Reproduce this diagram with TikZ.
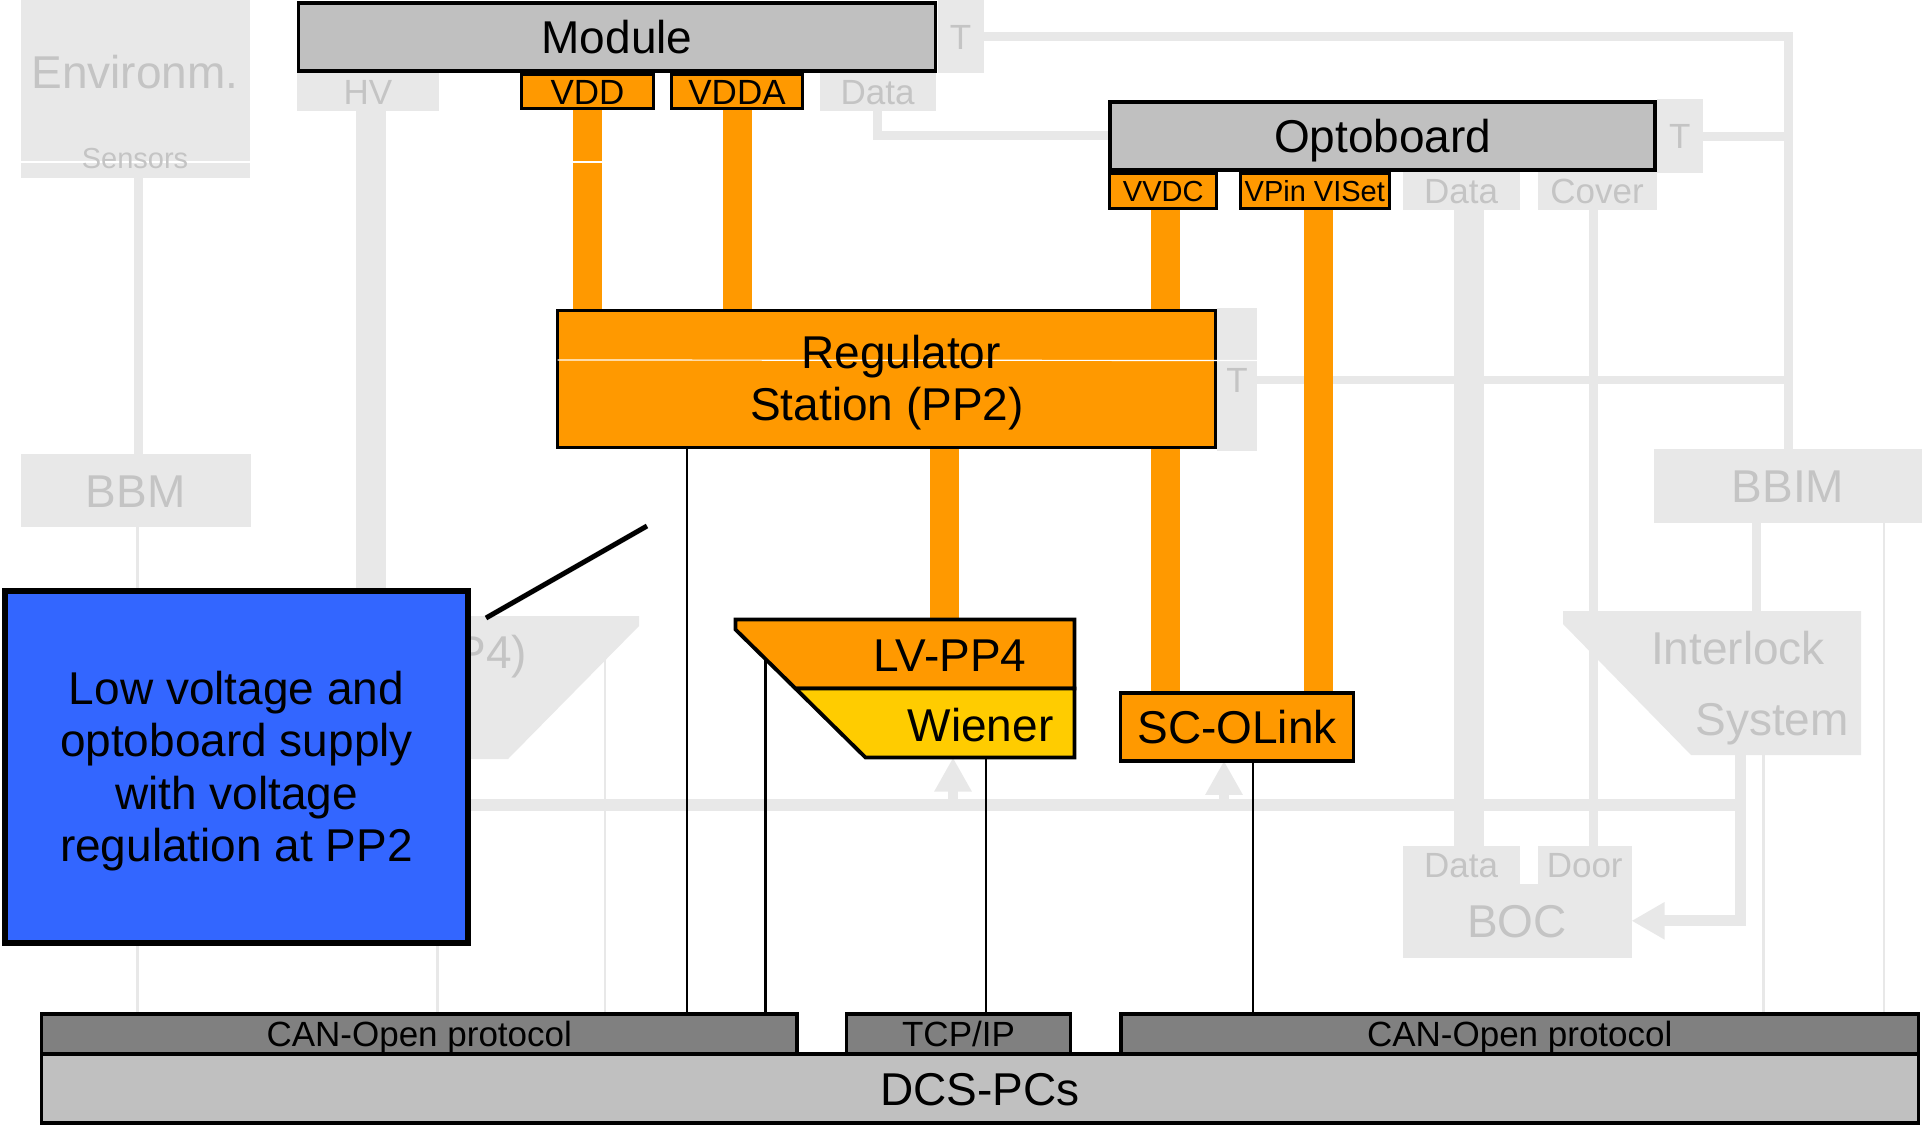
\documentclass[tikz,border=0pt]{standalone}
\usepackage{fontspec}
\setmainfont{Liberation Sans}
\usetikzlibrary{arrows.meta,backgrounds}
\definecolor{ghostfill}{HTML}{E8E8E8}
\definecolor{ghosttext}{HTML}{C4C4C4}
\definecolor{unitgray}{HTML}{C0C0C0}
\definecolor{busgray}{HTML}{808080}
\definecolor{pp2orange}{HTML}{FF9900}
\definecolor{wienergold}{HTML}{FFCC00}
\definecolor{noteblue}{HTML}{3366FF}

\begin{document}
\begin{tikzpicture}[
  x=1pt, y=-1pt,
  every node/.style={inner sep=0pt, outer sep=0pt},
  lblbig/.style={font=\fontsize{46}{52}\selectfont, text height=33pt, text depth=0pt},
  lblmed/.style={font=\fontsize{35}{40}\selectfont, text height=25pt, text depth=0pt},
  lblsmall/.style={font=\fontsize{29}{34}\selectfont, text height=21pt, text depth=0pt},
  ghost/.style={fill=ghostfill, text=ghosttext},
  ghostlbl/.style={text=ghosttext},
  ghostwire/.style={draw=ghostfill, line width=9pt},
  ghostbar/.style={draw=ghostfill, line width=30pt},
  ghosthair/.style={draw=ghostfill, line width=2.5pt},
  ghostarrow/.style={draw=ghostfill, line width=10pt, -{Triangle[length=34pt,width=35pt]}},
  unitbox/.style={draw=black, line width=3.8pt, fill=unitgray},
  supply/.style={draw=black, line width=3.8pt, fill=pp2orange},
  pinbox/.style={draw=black, line width=3pt, fill=pp2orange},
  busbox/.style={draw=black, line width=3.8pt, fill=busgray},
  feed/.style={draw=pp2orange, line width=29pt},
  wire/.style={draw=black, line width=2.5pt},
  sepline/.style={draw=white, line width=1.2pt},
  notebox/.style={draw=black, line width=6pt, fill=noteblue},
  notetext/.style={align=center, font=\fontsize{46}{52.5}\selectfont},
  pointer/.style={draw=black, line width=5pt},
]
% ---- ghosted context (not part of the LV chain) ----
\node[ghost, minimum width=229, minimum height=178] (env) at (135.25,89) {};
\coordinate (sensy) at (0,162);
\draw[sepline] (env.west |- sensy) -- (env.east |- sensy);
\node[ghostlbl, lblbig, anchor=base] (envlbl) at (135,88) {Environm.};
\node[ghostlbl, lblsmall, anchor=base] (senslbl) at (135,168) {Sensors};
\node[ghost, lblbig, minimum width=230, minimum height=73] (bbm) at (135.7,490.5) {BBM};
\node[ghost, lblmed, minimum width=142, minimum height=38] (hv) at (368,92) {HV};
\node[ghost, lblmed, minimum width=116, minimum height=38] (mdata) at (877.6,92) {Data};
\node[ghost, lblmed, minimum width=46, minimum height=73] (mT) at (960.5,36.5) {T};
\node[ghost, lblmed, minimum width=45.5, minimum height=74] (oT) at (1679.75,136) {T};
\node[ghost, lblmed, minimum width=117, minimum height=38] (odata) at (1461,191) {Data};
\node[ghost, lblmed, minimum width=119, minimum height=38] (cover) at (1597,191) {Cover};
\node[ghost, lblmed, minimum width=40, minimum height=143] (rT) at (1237,379.5) {T};
\node[ghost, lblbig, minimum width=268, minimum height=73.5] (bbim) at (1788,485.75) {BBIM};
\node[ghost, lblmed, minimum width=117, minimum height=38] (bocdata) at (1461,865) {Data};
\node[ghost, lblmed, minimum width=94, minimum height=38] (bocdoor) at (1584.7,865) {Door};
\node[ghost, lblbig, minimum width=229, minimum height=74] (boc) at (1517,920.8) {BOC};

% HV-PP4 (mostly behind the note)
\node[minimum width=339, minimum height=143] (hvpp4) at (469.5,687.5) {};
\fill[ghostfill] (hvpp4.north west) -- (hvpp4.north east) -- ([yshift=-10]hvpp4.north east)
  -- ([xshift=208]hvpp4.south west) -- (hvpp4.south west) -- cycle;
\node[ghostlbl, lblbig, anchor=base east] (hvpp4lbl) at (527,668) {P4)};

% interlock
\node[minimum width=298, minimum height=144] (intl) at (1712,683) {};
\fill[ghostfill] (intl.north west) -- (intl.north east) -- (intl.south east)
  -- ([xshift=128]intl.south west) -- ([yshift=-13]intl.north west) -- cycle;
\node[ghostlbl, lblbig, anchor=base] (intllblA) at (1738,664) {Interlock};
\node[ghostlbl, lblbig, anchor=base] (intllblB) at (1772,735) {System};

% ---- module and optoboard ----
\node[unitbox, lblbig, minimum width=637, minimum height=68] (module) at (617,37) {Module};
\node[pinbox, lblmed, minimum width=132, minimum height=34.5] (vdd) at (587.5,91.5) {VDD};
\node[pinbox, lblmed, minimum width=131, minimum height=34.5] (vdda) at (737,91.5) {VDDA};
\node[unitbox, lblbig, minimum width=545, minimum height=68] (opto) at (1382.75,135.75) {Optoboard};
\node[pinbox, lblsmall, minimum width=107, minimum height=35.5] (vvdc) at (1163.25,191) {VVDC};
\node[pinbox, lblsmall, minimum width=149, minimum height=35.5] (vpin) at (1314.8,191) {VPin VISet};

% ---- regulator station ----
\node[supply, minimum width=658, minimum height=137] (reg) at (886.5,379) {};
\draw[sepline] ([yshift=19]reg.west) -- ([yshift=19]rT.east);
\node[lblbig, anchor=base] (reglblA) at (901,368) {Regulator};
\node[lblbig, anchor=base] (reglblB) at (887,420) {Station (PP2)};

% ---- LV-PP4 / Wiener ----
\node[minimum width=339, minimum height=138] (lv) at (905,688.5) {};
\filldraw[supply] (lv.north west) -- (lv.north east) -- (lv.east) -- ([xshift=60]lv.west)
  -- ([yshift=-10]lv.north west) -- cycle;
\filldraw[supply, fill=wienergold] ([xshift=60]lv.west) -- (lv.east) -- (lv.south east)
  -- ([xshift=130]lv.south west) -- cycle;
\node[lblbig, anchor=base] (lvlbl) at (950,671) {LV-PP4};
\node[lblbig, anchor=base] (wienerlbl) at (980.5,741) {Wiener};

\node[supply, lblbig, minimum width=233, minimum height=67.5] (scolink) at (1237,727) {SC-OLink};

% ---- DCS PCs and field buses ----
\node[busbox, lblmed, minimum width=755.5, minimum height=40] (canL) at (419.25,1034) {CAN-Open protocol};
\node[busbox, lblmed, minimum width=224, minimum height=40] (tcp) at (958.5,1034) {TCP/IP};
\node[busbox, lblmed, minimum width=797.5, minimum height=40] (canR) at (1519.75,1034) {CAN-Open protocol};
\node[unitbox, lblbig, minimum width=1877, minimum height=69] (dcs) at (980,1088.75) {DCS-PCs};

% ---- connections (behind the boxes) ----
\begin{scope}[on background layer]
  \path[use as bounding box, fill=white] (0,0) rectangle (1923,1127);
  % ghosted wiring
  \draw[ghostwire] ([xshift=3]env.south) -- ([xshift=3]env.south |- bbm.north);
  \draw[ghosthair] ([xshift=2]bbm.south) -- ([xshift=2]bbm.south |- canL.north);
  \draw[ghostbar] ([xshift=3]hv.south) -- ([xshift=3]hv.south |- hvpp4.north);
  \draw[ghosthair] ([xshift=-32]hvpp4.south) -- ([xshift=-32]hvpp4.south |- canL.north);
  \draw[ghosthair] ([xshift=305,yshift=-44]hvpp4.north west) -- ([xshift=305]hvpp4.north west |- canL.north);
  \draw[ghostwire] (mdata.south) -- (mdata.south |- opto.west) -- (opto.west);
  \draw[ghostwire] (mT.east) -- (mT.east -| bbim.north) -- (bbim.north);
  \draw[ghostwire] (oT.east) -- (oT.east -| bbim.north);
  \draw[ghostwire, line width=8pt] (rT.east) -- (rT.east -| bbim.north);
  \draw[ghostbar] ([xshift=8]odata.south) -- ([xshift=8]bocdata.north);
  \draw[ghostwire] ([xshift=-3.5]cover.south) -- ([xshift=-3.5]cover.south |- bocdoor.north);
  \draw[ghostwire] ([xshift=-31.5]bbim.south) -- ([xshift=-31.5]bbim.south |- intl.north);
  \draw[ghosthair] ([xshift=96]bbim.south) -- ([xshift=96]bbim.south |- canR.north);
  \draw[ghosthair] ([xshift=51.6]intl.south) -- ([xshift=51.6]intl.south |- canR.north);
  \coordinate (intlout) at ([xshift=28.5]intl.south);
  \draw[ghostwire, line width=11pt, -{Triangle[length=33pt,width=35pt]}]
    (intlout) -- (intlout |- boc.east) -- (boc.east);
  \coordinate (busW) at (380,805);
  \draw[ghostwire, line width=12pt] (busW) -- (busW -| intlout);
  \draw[ghostarrow] ([xshift=48]lv.south |- busW) -- ([xshift=48]lv.south);
  \draw[ghostarrow] ([xshift=-13]scolink.south |- busW) -- ([xshift=-13]scolink.south);

  % supply lines
  \draw[feed] (vdd.south) -- (vdd.south |- reg.north);
  \draw[feed] (vdda.south) -- (vdda.south |- reg.north);
  \draw[feed] ([xshift=2]vvdc.south) -- ([xshift=2]vvdc.south |- reg.north);
  \draw[feed] ([xshift=2]vvdc.south |- reg.south) -- ([xshift=2]vvdc.south |- scolink.north);
  \draw[feed] ([xshift=4]vpin.south) -- ([xshift=4]vpin.south |- scolink.north);
  \draw[feed] ([xshift=39.5]lv.north |- reg.south) -- ([xshift=39.5]lv.north);

  % control lines to the PCs
  \draw[wire] ([xshift=-199.5]reg.south) -- ([xshift=-199.5]reg.south |- canL.north);
  \draw[wire] ([xshift=30,yshift=-40]lv.north west) -- ([xshift=30]lv.north west |- canL.north);
  \draw[wire] ([xshift=81]lv.south) -- ([xshift=81]lv.south |- tcp.north);
  \draw[wire] ([xshift=16]scolink.south) -- ([xshift=16]scolink.south |- canR.north);
\end{scope}
\draw[sepline] ([xshift=-15]vdd.south |- sensy) -- ([xshift=15]vdd.south |- sensy);

% ---- highlight note ----
\node[notebox, minimum width=463, minimum height=352] (pp2note) at (236.5,767) {};
\node[notetext] (pp2text) at (236.5,771)
  {Low voltage and\\optoboard supply\\with voltage\\regulation at PP2};
\coordinate (ptrtip) at (647,526);
\draw[pointer] ([xshift=18,yshift=-27]pp2note.north east) -- (ptrtip);
\end{tikzpicture}
\end{document}
